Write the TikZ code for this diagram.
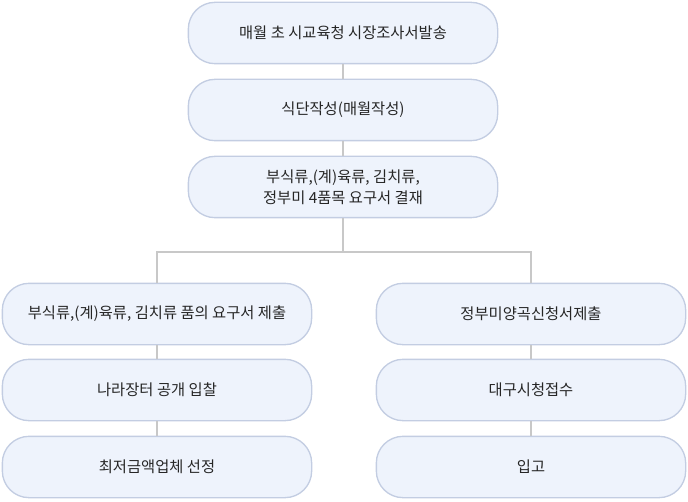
\documentclass[tikz,border=0pt]{standalone}
\usepackage{fontspec}
\setmainfont{Noto Sans CJK KR}
\definecolor{boxfill}{HTML}{EEF3FC}
\definecolor{boxline}{HTML}{C3CDE2}
\definecolor{linkline}{HTML}{C8C8C8}
\tikzset{
  stage/.style={draw=boxline, line width=1pt, fill=boxfill, rounded corners=20pt,
    minimum width=232pt, minimum height=46pt, align=center, font=\fontsize{11.5}{16}\selectfont, text=black!85},
  link/.style={draw=linkline, line width=0.8pt}
}
\begin{document}
\begin{tikzpicture}[x=0.75pt,y=-0.75pt]
  \useasboundingbox (0,0) rectangle (688,502);
  \node[stage] (notice) at (343,33) {매월 초 시교육청 시장조사서발송};
  \node[stage] (menu) at (343,110) {식단작성(매월작성)};
  \node[stage] (approve) at (343,187) {부식류,(계)육류, 김치류,\\정부미 4품목 요구서 결재};
  \node[stage] (submit) at (157,314) {부식류,(계)육류, 김치류 품의 요구서 제출};
  \node[stage] (bid) at (157,390) {나라장터 공개 입찰};
  \node[stage] (select) at (157,467) {최저금액업체 선정};
  \node[stage] (rice) at (531,314) {정부미양곡신청서제출};
  \node[stage] (accept) at (531,390) {대구시청접수};
  \node[stage] (store) at (531,467) {입고};
  \coordinate (fork) at (343,252);
  \draw[link] (notice) -- (menu);
  \draw[link] (menu) -- (approve);
  \draw[link] (approve) -- (fork);
  \draw[link] (fork) -| (submit);
  \draw[link] (fork) -| (rice);
  \draw[link] (submit) -- (bid);
  \draw[link] (bid) -- (select);
  \draw[link] (rice) -- (accept);
  \draw[link] (accept) -- (store);
\end{tikzpicture}
\end{document}
